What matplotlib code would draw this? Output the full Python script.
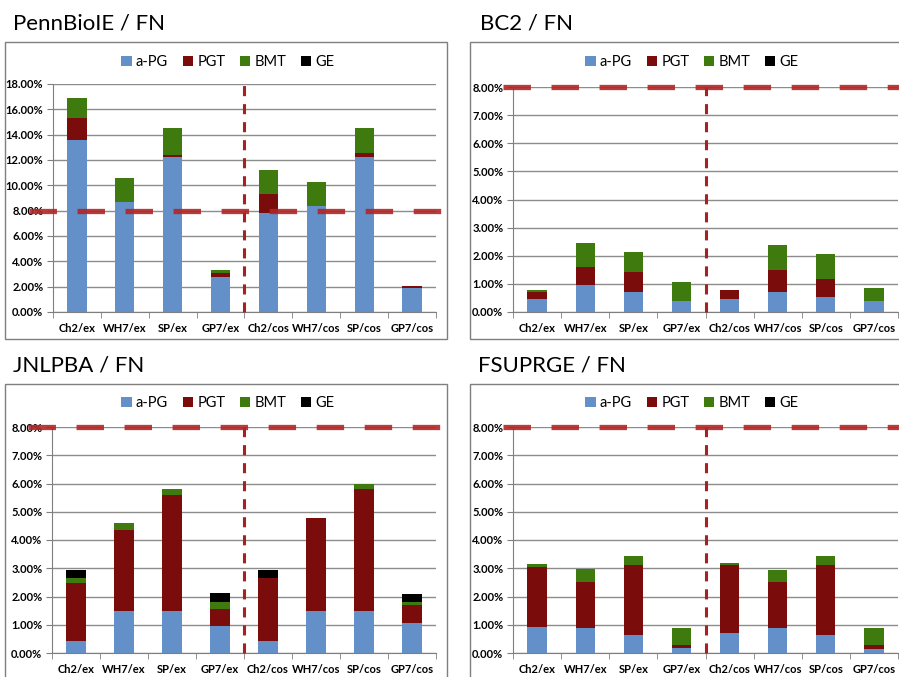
import matplotlib.pyplot as plt
import numpy as np
from matplotlib.patches import Rectangle
from matplotlib.ticker import FuncFormatter, FixedLocator

plt.rcParams['font.family'] = ['Lato', 'DejaVu Sans']

# Data (values in percent)
categories = ['Ch2/ex', 'WH7/ex', 'SP/ex', 'GP7/ex', 'Ch2/cos', 'WH7/cos', 'SP/cos', 'GP7/cos']
series_names = ['a-PG', 'PGT', 'BMT', 'GE']

penn_apg = [13.6, 8.7, 12.2, 2.8, 7.8, 8.4, 12.2, 1.9]
penn_pgt = [1.7, 0.0, 0.2, 0.25, 1.5, 0.0, 0.35, 0.15]
penn_bmt = [1.6, 1.9, 2.1, 0.25, 1.9, 1.85, 1.95, 0.0]
penn_ge = [0, 0, 0, 0, 0, 0, 0, 0]

bc2_apg = [0.45, 0.95, 0.72, 0.40, 0.47, 0.72, 0.52, 0.40]
bc2_pgt = [0.27, 0.65, 0.70, 0.0, 0.30, 0.78, 0.66, 0.0]
bc2_bmt = [0.08, 0.87, 0.70, 0.65, 0.0, 0.87, 0.87, 0.45]
bc2_ge = [0, 0, 0, 0, 0, 0, 0, 0]

jnl_apg = [0.43, 1.50, 1.50, 0.97, 0.43, 1.50, 1.50, 1.07]
jnl_pgt = [2.05, 2.85, 4.08, 0.60, 2.22, 3.27, 4.30, 0.63]
jnl_bmt = [0.17, 0.25, 0.24, 0.25, 0.0, 0.0, 0.20, 0.10]
jnl_ge = [0.30, 0.0, 0.0, 0.30, 0.30, 0.0, 0.0, 0.30]

fsu_apg = [0.92, 0.88, 0.65, 0.18, 0.70, 0.88, 0.65, 0.13]
fsu_pgt = [2.13, 1.62, 2.47, 0.12, 2.42, 1.62, 2.47, 0.17]
fsu_bmt = [0.10, 0.47, 0.33, 0.57, 0.08, 0.43, 0.33, 0.57]
fsu_ge = [0, 0, 0, 0, 0, 0, 0, 0]

threshold = 8.0

colors = ['#6390C9', '#7B0C0C', '#3F7A0E', '#000000']

W, H = 899, 677
fig = plt.figure(figsize=(W / 100, H / 100), dpi=100)


def px_box(x0, y0, x1, y1):
    # pixel box (top-left origin) -> figure fraction rect
    return [x0 / W, 1 - y1 / H, (x1 - x0) / W, (y1 - y0) / H]


# panel specs: title, data, ymax, ystep, axes box, frame box, title pos, legend center, line start
panels = [
    ('PennBioIE / FN', (penn_apg, penn_pgt, penn_bmt, penn_ge), 18, 2,
     (53, 84, 436, 312), (5, 42, 447, 339), (13, 30), (228, 62), -1.0),
    ('BC2 / FN', (bc2_apg, bc2_pgt, bc2_bmt, bc2_ge), 8, 1,
     (513, 87, 898, 312), (470, 42, 960, 339), (480, 30), (692, 62), -0.7),
    ('JNLPBA / FN', (jnl_apg, jnl_pgt, jnl_bmt, jnl_ge), 8, 1,
     (52, 427, 436, 653), (5, 384, 447, 720), (13, 372), (228, 403), -1.0),
    ('FSUPRGE / FN', (fsu_apg, fsu_pgt, fsu_bmt, fsu_ge), 8, 1,
     (513, 427, 898, 653), (470, 384, 960, 720), (478, 372), (692, 403), -0.7),
]

x = np.arange(len(categories))

for title, data, ymax, ystep, abox, fbox, tpos, lpos, lstart in panels:
    # outer frame
    fx0, fy0, fx1, fy1 = fbox
    fig.patches.append(Rectangle((fx0 / W, 1 - fy1 / H), (fx1 - fx0) / W, (fy1 - fy0) / H,
                                 transform=fig.transFigure, fill=False,
                                 edgecolor='#7f7f7f', linewidth=1.0))
    fig.text(tpos[0] / W, 1 - tpos[1] / H, title, fontsize=16, ha='left', va='baseline')

    ax = fig.add_axes(px_box(*abox))
    bottom = np.zeros(len(categories))
    handles = []
    for vals, name, c in zip(data, series_names, colors):
        b = ax.bar(x, vals, 0.4, bottom=bottom, color=c, label=name, zorder=2)
        handles.append(b)
        bottom += np.array(vals)

    ax.set_xlim(-0.5, len(categories) - 0.5)
    ax.set_ylim(0, ymax)
    ax.set_yticks(np.arange(0, ymax + ystep / 2, ystep))
    ax.yaxis.set_major_formatter(FuncFormatter(lambda v, p: '%.2f%%' % v))
    ax.yaxis.grid(True, color='#8c8c8c', linewidth=1.0, zorder=0)
    ax.set_axisbelow(True)

    ax.set_xticks(x)
    ax.set_xticklabels(categories, fontsize=8, fontweight='bold')
    ax.tick_params(axis='x', which='major', length=0, pad=8)
    ax.xaxis.set_minor_locator(FixedLocator(np.arange(-0.5, len(categories), 1.0)))
    ax.tick_params(axis='x', which='minor', length=4, color='#7f7f7f', direction='out')
    ax.tick_params(axis='y', labelsize=8, length=4, color='#7f7f7f', pad=3)
    for lab in ax.get_yticklabels():
        lab.set_fontweight('bold')

    for s in ['top', 'right']:
        ax.spines[s].set_visible(False)
    ax.spines['left'].set_color('#7f7f7f')
    ax.spines['bottom'].set_color('#7f7f7f')

    # threshold line
    hl, = ax.plot([lstart, 7.6], [threshold, threshold],
                  color='#B22525', alpha=0.9, linewidth=3.8, solid_capstyle='butt',
                  clip_on=False, zorder=5)
    hl.set_dashes((5.2, 3.9))

    # separator between ex and cos
    vl, = ax.plot([3.5, 3.5], [0, ymax], color='#A82020',
                  linewidth=2.2, clip_on=False, zorder=4)
    vl.set_dashes((3.3, 2.6))

    fig.legend(handles=handles, labels=series_names, loc='center',
               bbox_to_anchor=(lpos[0] / W, 1 - lpos[1] / H), ncol=4, frameon=False,
               fontsize=10.5, handlelength=0.7, handleheight=0.7, handletextpad=0.3,
               columnspacing=1.0)

fig.savefig('out.png', dpi=100)
